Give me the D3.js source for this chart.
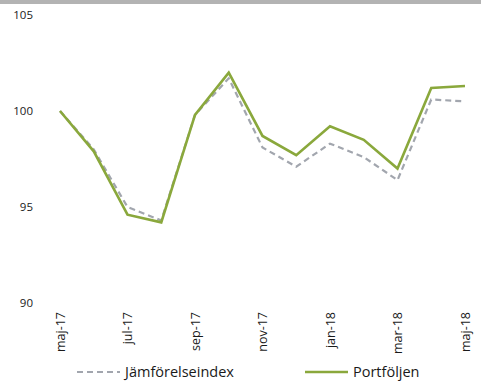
<!DOCTYPE html>
<html>
<head>
<meta charset="utf-8">
<script src="https://cdn.jsdelivr.net/npm/d3@7/dist/d3.min.js"></script>
<style>
  html, body { margin: 0; padding: 0; background: #fff; }
  svg { display: block; font-family: "Open Sans", "Noto Sans", sans-serif; }
</style>
</head>
<body>
<svg id="chart" width="481" height="381"></svg>
<script>
// Monthly index values, May 2017 – May 2018
const months = ["maj-17","jun-17","jul-17","aug-17","sep-17","okt-17","nov-17",
                "dec-17","jan-18","feb-18","mar-18","apr-18","maj-18"];
const tickMonths = ["maj-17","jul-17","sep-17","nov-17","jan-18","mar-18","maj-18"];
const portfolj = [100.0, 97.9, 94.6, 94.2, 99.8, 102.0, 98.7, 97.7, 99.2, 98.5, 97.0, 101.2, 101.3];
const jamforelse = [100.0, 98.0, 95.0, 94.3, 99.8, 101.7, 98.1, 97.1, 98.3, 97.6, 96.4, 100.6, 100.5];
const yTicks = [90, 95, 100, 105];
const seriesNames = ["Jämförelseindex", "Portföljen"];

const svg = d3.select("#chart");
const W = 481, H = 381;

// thin grey strip along the top edge
svg.append("rect").attr("x", 0).attr("y", 0).attr("width", W).attr("height", 4)
   .attr("fill", "#b3b3b3");

const x = d3.scalePoint().domain(months).range([60, 465]);
const y = d3.scaleLinear().domain([90, 105]).range([303, 15]);

// y axis labels
const yAxis = d3.axisLeft(y).tickValues(yTicks).tickSize(0).tickPadding(0)
  .tickFormat(d3.format("d"));
svg.append("g").attr("transform", "translate(33,0)").call(yAxis)
  .call(g => g.select(".domain").remove())
  .call(g => g.selectAll("text").attr("font-size", 11.5).attr("fill", "#1a1a1a")
      .attr("font-family", "'Open Sans', sans-serif"));

// x axis labels, rotated
const xAxis = d3.axisBottom(x).tickValues(tickMonths).tickSize(0).tickPadding(0);
svg.append("g").attr("transform", "translate(0,312)").call(xAxis)
  .call(g => g.select(".domain").remove())
  .call(g => g.selectAll("text")
      .attr("font-size", 12.5).attr("fill", "#1a1a1a")
      .attr("font-family", "'Open Sans', sans-serif")
      .attr("text-anchor", "end")
      .attr("dy", "0.35em")
      .attr("transform", "rotate(-90)")
      .attr("x", 0).attr("y", 0));

const line = d3.line().x((d, i) => x(months[i])).y(d => y(d));

svg.append("path").datum(jamforelse)
  .attr("d", line).attr("fill", "none")
  .attr("stroke", "#a2a6ae").attr("stroke-width", 2.2)
  .attr("stroke-dasharray", "6,4");

svg.append("path").datum(portfolj)
  .attr("d", line).attr("fill", "none")
  .attr("stroke", "#8aa83c").attr("stroke-width", 2.6)
  .attr("stroke-linejoin", "miter");

// legend
const legend = svg.append("g").attr("font-size", 14.5).attr("fill", "#1a1a1a")
  .attr("font-family", "'Open Sans', sans-serif");
legend.append("line").attr("x1", 77).attr("x2", 120).attr("y1", 372).attr("y2", 372)
  .attr("stroke", "#a2a6ae").attr("stroke-width", 2.2).attr("stroke-dasharray", "6,4");
legend.append("text").attr("x", 125).attr("y", 377).text(seriesNames[0]);
legend.append("line").attr("x1", 305).attr("x2", 348).attr("y1", 372).attr("y2", 372)
  .attr("stroke", "#8aa83c").attr("stroke-width", 2.6);
legend.append("text").attr("x", 353).attr("y", 377).text(seriesNames[1]);
</script>
</body>
</html>
